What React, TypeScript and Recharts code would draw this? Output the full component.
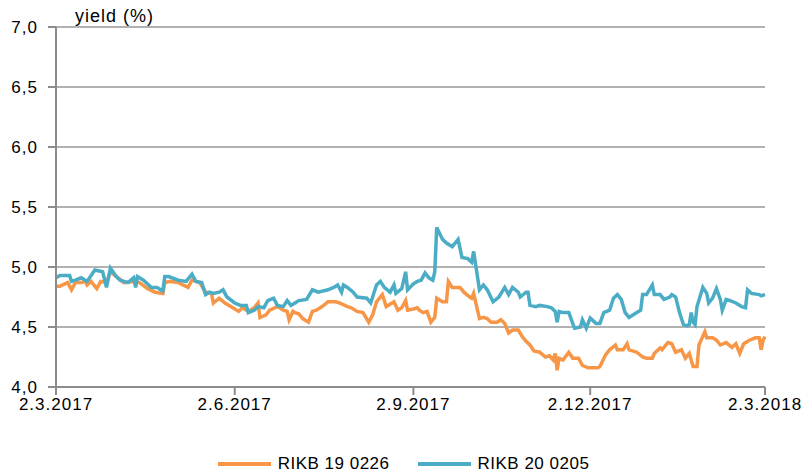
import { LineChart, Line, XAxis, YAxis, CartesianGrid, Legend } from "recharts";

// days counted from 2.3.2017, yield in %
const rikb190226: [number, number][] = [
  [0, 4.84], [2, 4.84], [6, 4.87], [8, 4.81], [10, 4.87], [13, 4.87], [15, 4.88], [16, 4.85], [18, 4.88], [21, 4.82],
  [23, 4.88], [26, 4.87], [28, 4.96], [32, 4.91], [35, 4.87], [40, 4.88], [43, 4.87], [47, 4.82], [51, 4.79], [55, 4.78],
  [56, 4.87], [59, 4.88], [63, 4.87], [68, 4.83], [70, 4.89], [74, 4.87], [77, 4.79], [80, 4.78], [81, 4.7], [84, 4.74],
  [87, 4.7], [90, 4.67], [94, 4.63], [96, 4.66], [99, 4.63], [102, 4.66], [104, 4.7], [105, 4.58], [108, 4.6], [110, 4.64],
  [114, 4.67], [117, 4.64], [119, 4.63], [120, 4.56], [122, 4.63], [123, 4.62], [125, 4.61], [127, 4.57], [130, 4.54], [132, 4.63],
  [134, 4.64], [137, 4.67], [140, 4.71], [144, 4.71], [146, 4.7], [150, 4.67], [152, 4.66], [155, 4.63], [158, 4.62], [161, 4.54],
  [163, 4.6], [165, 4.71], [168, 4.77], [170, 4.67], [173, 4.7], [174, 4.71], [176, 4.64], [178, 4.66], [180, 4.72], [181, 4.64],
  [184, 4.65], [186, 4.66], [187, 4.64], [189, 4.62], [191, 4.63], [193, 4.54], [195, 4.58], [196, 4.74], [199, 4.71], [201, 4.71],
  [202, 4.88], [204, 4.83], [208, 4.83], [210, 4.79], [213, 4.75], [214, 4.74], [215, 4.78], [218, 4.57], [220, 4.58], [222, 4.57],
  [224, 4.54], [227, 4.54], [229, 4.56], [231, 4.53], [233, 4.45], [235, 4.475], [238, 4.475], [240, 4.42], [242, 4.38], [244, 4.35],
  [246, 4.3], [249, 4.29], [252, 4.25], [254, 4.26], [256, 4.225], [257, 4.28], [258, 4.14], [259, 4.24], [261, 4.225], [264, 4.29],
  [266, 4.24], [269, 4.24], [271, 4.18], [274, 4.16], [279, 4.16], [280, 4.17], [283, 4.27], [285, 4.31], [288, 4.35], [289, 4.31],
  [292, 4.31], [294, 4.36], [295, 4.31], [299, 4.29], [302, 4.25], [304, 4.24], [307, 4.24], [308, 4.28], [311, 4.325], [312, 4.31],
  [315, 4.37], [317, 4.36], [319, 4.29], [322, 4.31], [324, 4.24], [326, 4.28], [328, 4.17], [330, 4.17], [331, 4.35], [334, 4.46],
  [335, 4.41], [338, 4.41], [340, 4.39], [342, 4.35], [345, 4.37], [348, 4.33], [350, 4.36], [352, 4.28], [354, 4.36], [357, 4.39],
  [360, 4.41], [362, 4.41], [363, 4.31], [364, 4.39], [365, 4.42],
];

const rikb200205: [number, number][] = [
  [0, 4.91], [2, 4.93], [7, 4.93], [8, 4.88], [10, 4.89], [13, 4.91], [16, 4.88], [20, 4.975], [24, 4.96], [26, 4.83],
  [28, 4.99], [31, 4.92], [33, 4.89], [37, 4.87], [40, 4.91], [41, 4.83], [42, 4.92], [45, 4.89], [49, 4.83], [52, 4.83],
  [55, 4.8], [56, 4.92], [58, 4.92], [63, 4.89], [67, 4.88], [70, 4.94], [72, 4.88], [75, 4.87], [77, 4.77], [79, 4.79],
  [81, 4.78], [84, 4.79], [86, 4.81], [88, 4.75], [92, 4.7], [95, 4.68], [98, 4.68], [99, 4.62], [102, 4.64], [104, 4.67],
  [107, 4.66], [109, 4.72], [112, 4.74], [114, 4.68], [117, 4.67], [119, 4.72], [121, 4.68], [123, 4.7], [125, 4.72], [129, 4.73],
  [132, 4.81], [135, 4.79], [140, 4.81], [143, 4.83], [145, 4.85], [147, 4.79], [148, 4.85], [150, 4.83], [153, 4.79], [155, 4.75],
  [160, 4.74], [162, 4.7], [165, 4.85], [167, 4.88], [169, 4.83], [172, 4.79], [174, 4.85], [175, 4.78], [178, 4.82], [180, 4.96],
  [181, 4.81], [184, 4.86], [186, 4.88], [188, 4.89], [190, 4.95], [192, 4.91], [194, 4.89], [195, 4.96], [196, 5.33], [199, 5.23],
  [201, 5.2], [204, 5.17], [207, 5.23], [209, 5.08], [212, 5.07], [214, 5.04], [215, 5.13], [218, 4.81], [220, 4.85], [222, 4.81],
  [225, 4.71], [228, 4.75], [231, 4.83], [233, 4.77], [235, 4.83], [238, 4.79], [239, 4.75], [242, 4.79], [243, 4.79], [244, 4.68],
  [247, 4.67], [249, 4.68], [253, 4.67], [255, 4.66], [257, 4.63], [258, 4.54], [259, 4.63], [261, 4.62], [264, 4.62], [266, 4.53],
  [267, 4.49], [270, 4.5], [271, 4.56], [273, 4.49], [275, 4.575], [278, 4.53], [280, 4.53], [282, 4.62], [285, 4.64], [287, 4.74],
  [289, 4.77], [291, 4.73], [293, 4.62], [295, 4.58], [299, 4.62], [301, 4.64], [302, 4.77], [304, 4.77], [307, 4.85], [308, 4.77],
  [311, 4.77], [313, 4.73], [316, 4.75], [317, 4.77], [319, 4.75], [321, 4.62], [323, 4.52], [325, 4.51], [326, 4.52], [327, 4.62],
  [328, 4.54], [329, 4.52], [330, 4.67], [333, 4.83], [335, 4.78], [336, 4.7], [338, 4.74], [340, 4.82], [342, 4.73], [343, 4.64],
  [345, 4.73], [347, 4.72], [350, 4.7], [353, 4.67], [355, 4.66], [356, 4.81], [358, 4.78], [362, 4.77], [363, 4.76], [365, 4.77],
];

const xTicks = [0, 92, 184, 275, 365];
const xTickLabels = ["2.3.2017", "2.6.2017", "2.9.2017", "2.12.2017", "2.3.2018"];
const yTicks = [4, 4.5, 5, 5.5, 6, 6.5, 7];

const series = [
  { name: "RIKB 19 0226", color: "#f79646", points: rikb190226 },
  { name: "RIKB 20 0205", color: "#4bacc6", points: rikb200205 },
];

const FONT = "'Liberation Sans', Arial, sans-serif";
const AXIS = "#8c8c8c";

function LegendBox() {
  return (
    <div style={{ display: "flex", justifyContent: "center", alignItems: "center", height: 24, fontFamily: FONT, fontSize: 17, letterSpacing: 0.5, color: "#000" }}>
      {series.map((s) => (
        <div key={s.name} style={{ display: "flex", alignItems: "center", margin: "0 14px" }}>
          <span style={{ display: "inline-block", width: 53, height: 4, background: s.color, marginRight: 7 }} />
          <span>{s.name}</span>
        </div>
      ))}
    </div>
  );
}

export default function App() {
  return (
    <div style={{ width: 807, height: 476 }}>
      <style>{"body{margin:0}"}</style>
      <LineChart width={807} height={476} margin={{ top: 27, right: 42, left: 0, bottom: 35 }}>
        <CartesianGrid vertical={false} stroke="#999" strokeWidth={1.5} />
        <XAxis
          type="number"
          dataKey="day"
          domain={[0, 365]}
          ticks={xTicks}
          tickFormatter={(v: number) => xTickLabels[xTicks.indexOf(v)] ?? ""}
          interval={0}
          height={30}
          tickSize={8}
          tickMargin={3}
          axisLine={{ stroke: AXIS, strokeWidth: 2 }}
          tickLine={{ stroke: AXIS, strokeWidth: 2 }}
          tick={{ fill: "#000", fontSize: 17, fontFamily: FONT, letterSpacing: 1 }}
        />
        <YAxis
          type="number"
          domain={[4, 7]}
          ticks={yTicks}
          width={56}
          tickSize={8}
          tickMargin={10}
          tickFormatter={(v: number) => v.toFixed(1).replace(".", ",")}
          axisLine={{ stroke: AXIS, strokeWidth: 2 }}
          tickLine={{ stroke: AXIS, strokeWidth: 2 }}
          tick={{ fill: "#000", fontSize: 17, fontFamily: FONT, letterSpacing: 1 }}
          label={{
            content: () => (
              <text x={75} y={22} fill="#000" fontSize={18} fontFamily={FONT} letterSpacing={1}>
                yield (%)
              </text>
            ),
          }}
        />
        <Legend
          verticalAlign="bottom"
          content={() => <LegendBox />}
          wrapperStyle={{ top: 452, bottom: "auto", left: 0, width: 807, height: 24 }}
        />
        {series.map((s) => (
          <Line
            key={s.name}
            data={s.points.map(([day, y]) => ({ day, y }))}
            dataKey="y"
            name={s.name}
            type="linear"
            stroke={s.color}
            strokeWidth={3.5}
            dot={false}
            activeDot={false}
            isAnimationActive={false}
          />
        ))}
      </LineChart>
    </div>
  );
}
